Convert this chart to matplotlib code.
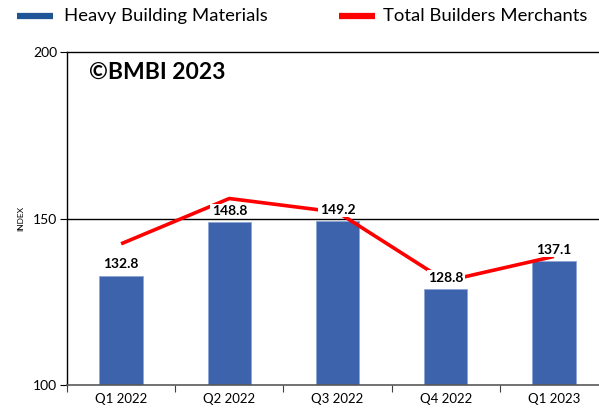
import matplotlib
matplotlib.use("Agg")
import matplotlib.pyplot as plt
from matplotlib.lines import Line2D

categories = ["Q1 2022", "Q2 2022", "Q3 2022", "Q4 2022", "Q1 2023"]
heavy = [132.8, 148.8, 149.2, 128.8, 137.1]
total = [142.4, 156.0, 151.9, 131.2, 138.6]
yticks = [100, 150, 200]
legend_labels = ["Heavy Building Materials", "Total Builders Merchants"]

plt.rcParams['font.family'] = ['Lato', 'DejaVu Sans']

fig = plt.figure(figsize=(5.99, 4.12), dpi=100)
W, H = 599, 412
ax = fig.add_axes([67 / W, (H - 385) / H, (608 - 67) / W, (385 - 52) / H])

x = list(range(len(categories)))
ax.bar(x, [h - 100 for h in heavy], bottom=100, width=0.4, color="#3C63AC",
       edgecolor="#8EA6D6", linewidth=0.6, zorder=2)
ax.plot(x, total, color="#FF0000", linewidth=2.6, zorder=3, solid_capstyle="butt")

for xi, v in zip(x, heavy):
    ax.annotate(f"{v:.1f}", (xi, v), xytext=(0, 4), textcoords="offset points",
                ha="center", va="bottom", fontsize=10, fontweight="bold",
                bbox=dict(facecolor="white", edgecolor="none", pad=1.0), zorder=4)

ax.set_ylim(100, 200)
ax.set_xlim(-0.5, len(categories) - 0.5)
ax.set_yticks(yticks)
ax.set_yticklabels([str(t) for t in yticks], fontsize=10)
ax.axhline(150, color="black", linewidth=1.0, zorder=1)

ax.set_xticks([i - 0.5 for i in range(len(categories) + 1)])
ax.set_xticklabels([])
ax.set_xticks(x, minor=True)
ax.set_xticklabels(categories, minor=True, fontsize=9.5)
ax.tick_params(axis="x", which="minor", length=0, pad=6)
ax.tick_params(axis="x", which="major", length=5, color="#404040", direction="out")
ax.tick_params(axis="y", length=5, direction="out", pad=2)

for s in ["top", "right", "left"]:
    ax.spines[s].set_color("black")
    ax.spines[s].set_linewidth(1.0)
ax.spines["bottom"].set_color("#595959")
ax.spines["bottom"].set_linewidth(1.2)

ax.set_ylabel("INDEX", fontsize=6, labelpad=6)

ax.text(89 / W, 1 - 72 / H, "©BMBI 2023", transform=fig.transFigure, fontsize=16.5,
        fontweight="bold", va="center", ha="left")

# manual legend
ly = 1 - 16 / H
for (x0, x1, tx), col, lab in zip([(17, 53, 64), (339, 375, 383)],
                                  ["#1F5597", "#FF0000"], legend_labels):
    fig.add_artist(Line2D([x0 / W, x1 / W], [ly, ly], color=col, linewidth=4.5,
                          transform=fig.transFigure, solid_capstyle="butt"))
    fig.text(tx / W, ly, lab, fontsize=13.3, va="center", ha="left")

fig.savefig("out.png", dpi=100)
